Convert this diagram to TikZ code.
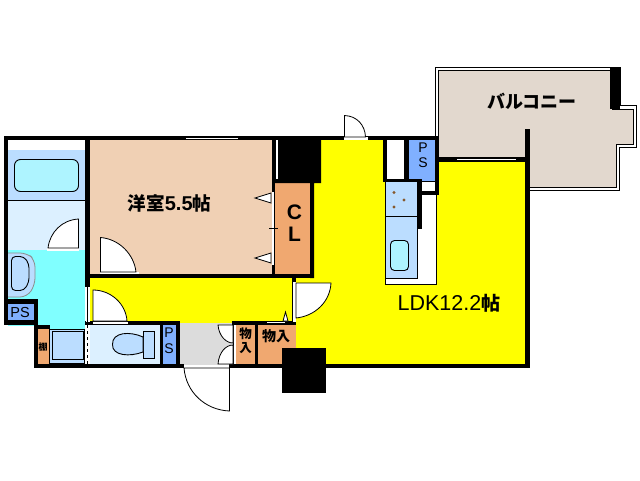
\documentclass[tikz,border=0pt]{standalone}
\usepackage{fontspec}
\setmainfont{Liberation Sans}
\newfontfamily\cjk{Noto Sans CJK JP}
\definecolor{peach}{HTML}{F0D0B4}
\definecolor{yel}{HTML}{FFFF00}
\definecolor{aqua}{HTML}{80FFFF}
\definecolor{paleb}{HTML}{DCF0FF}
\definecolor{midb}{HTML}{BBDDFF}
\definecolor{tub}{HTML}{AEF4FF}
\definecolor{psb}{HTML}{80B0FF}
\definecolor{oran}{HTML}{F0A870}
\definecolor{grayf}{HTML}{DCDCDC}
\definecolor{beige}{HTML}{E2D8CE}
\tikzset{
 fillbox/.style={fill=#1,draw=none},
 wall/.style={fill=black,draw=none},
 thin line/.style={draw=black,line width=0.9pt},
 fixture/.style={fill=#1,draw=black,line width=0.9pt},
 doorleaf/.style={fill=white,draw=black,line width=0.8pt},
 lab/.style={inner sep=0pt,font=\cjk\bfseries},
 latinlab/.style={inner sep=0pt,text=black},
}
\begin{document}
\begin{tikzpicture}[x=1pt,y=-1pt]
\useasboundingbox[fill=white] (0,0) rectangle (640,480);
% balcony
\path[fixture=white] (435.5,67.5) -- (620,67.5) -- (620,105.5) -- (636,105.5) -- (636,147.5) -- (619,147.5) -- (619,190.5) -- (528,190.5) -- (528,160) -- (435.5,160) -- cycle;
\path[fixture=beige] (438.5,70.5) -- (612,70.5) -- (612,109.5) -- (633,109.5) -- (633,144.5) -- (616,144.5) -- (616,187.5) -- (528,187.5) -- (528,160) -- (438.5,160) -- cycle;
\path[wall] (610,68) rectangle (620,109);
% rooms
\path[fillbox=peach] (88,138) rectangle (273,276);
\path[fillbox=yel] (88,276) rectangle (296,323);
\path[fillbox=yel] (321,138) -- (385,138) -- (385,160) -- (527,160) -- (527,366) -- (294,366) -- (294,276) -- (312,276) -- (312,183) -- (321,183) -- cycle;
\path[fillbox=white] (8,140) rectangle (85,150);
\path[fillbox=midb] (8,150) rectangle (85,200);
\path[fillbox=paleb] (8,200) rectangle (85,250);
\path[fillbox=aqua] (8,250) rectangle (85,326);
\path[fillbox=aqua] (36,326) rectangle (85,365);
\path[fillbox=paleb] (88,323) rectangle (163,365);
\path[fillbox=psb] (163,323) rectangle (176,365);
\path[fillbox=grayf] (178,323) rectangle (234,365);
\path[fillbox=oran] (234,323) rectangle (296,365);
\path[fillbox=oran] (273,181) rectangle (312,276);
\path[fillbox=white] (385,138) rectangle (406,181);
\path[fillbox=psb] (406,138) rectangle (437,193);
\path[fillbox=oran] (36,328) rectangle (49,365);
\path[fillbox=psb] (6,302) rectangle (36,322);
% bathroom fixtures
\path[fixture=tub,rounded corners=6pt] (14.5,159.5) rectangle (78.5,191.5);
\draw[thin line] (8,200.5) -- (85,200.5);
% wash basin
\path[fill=midb,draw=black!45,line width=0.8pt,rounded corners=7pt] (8,253) -- (27,253) -- (35,260) -- (35,285) -- (27,297) -- (8,297);
\path[fixture=midb,rounded corners=4pt] (11.5,256.5) -- (24,256.5) -- (29,264) -- (29,282) -- (24,290.5) -- (11.5,290.5) -- cycle;
% unit bath
\path[fixture=midb,line width=0.6pt] (49.5,329) rectangle (84,363);
\path[fixture=midb] (52.5,331.5) rectangle (83,359.5);
% toilet
\path[fixture=midb] (143.5,331.5) rectangle (154.5,358.5);
\path[fixture=midb] (143,337) .. controls (130,331) and (112,332) .. (112.5,344.5) .. controls (112,356) and (130,357) .. (143,352) -- cycle;
% kitchen
\path[fixture=white] (385.5,181) rectangle (436.5,284.5);
\path[fixture=midb,line width=0.8pt] (385.5,181) rectangle (417.5,278.5);
\draw[thin line] (385.5,216.5) -- (417.5,216.5);
\path[fixture=tub,rounded corners=4pt] (390.5,240.5) rectangle (408.5,270.5);
\foreach \n/\a/\b in {ba/394/192.5,bb/404/200,bc/394/207}{\fill[fill=brown!70!black] (\a,\b) circle (1.7);}
% CL triangles
\path[doorleaf] (271,193) -- (255,198) -- (271,203) -- cycle;
\path[doorleaf] (271,253) -- (255,258) -- (271,263) -- cycle;
% walls
\path[wall] (4,136) rectangle (438,140);
\path[wall] (4,136) rectangle (8,304);
\path[wall] (85,136) rectangle (90,287);
\path[wall] (4,299) rectangle (38,304);
\path[wall] (4,299) rectangle (8,325);
\path[wall] (4,320) rectangle (38,325);
\path[wall] (34,299) rectangle (38,368);
\path[wall] (34,325) rectangle (50,329);
\path[wall] (34,364) rectangle (184,368);
\path[wall] (229,364) rectangle (529,368);
\path[wall] (90,274) rectangle (314,278);
\path[wall] (85,321) rectangle (180,325);
\path[wall] (232,321) rectangle (296,325);
\path[wall] (160,321) rectangle (163,368);
\path[wall] (176,321) rectangle (180,368);
\path[wall] (233,321) rectangle (236,368);
\path[wall] (255,321) rectangle (258,368);
\path[wall] (272,140) rectangle (275,278);
\path[wall] (275,140) -- (321,140) -- (321,183) -- (314,183) -- (314,278) -- (310,278) -- (310,183) -- (275,183) -- cycle;
\path[wall] (282,348) rectangle (326,393);
\path[wall] (292,278) rectangle (296,325);
\path[wall] (383,140) rectangle (387,182);
\path[wall] (404,140) rectangle (409,182);
\path[wall] (383,179) rectangle (422,182);
\path[wall] (417.5,179) rectangle (422,229);
\path[wall] (417.5,191) rectangle (439,195);
\path[wall] (435,136) rectangle (439,195);
\path[wall] (435,157) rectangle (529,162);
\path[wall] (525,129) rectangle (530,368);
% wall openings
\path[fillbox=white] (275.5,140) rectangle (278,179);
\path[fillbox=white] (271.5,192) rectangle (274,265);
\draw[line width=0.6pt] (269,228.5) -- (278,228.5);
\path[fillbox=white] (457,158.5) rectangle (516,160);
\path[fillbox=white] (186,137.5) rectangle (238,138.5);
\path[fillbox=white] (47,248) rectangle (79,250.5);
\path[fillbox=white] (100,272) rectangle (139,274);
\path[fillbox=white] (85.5,287) rectangle (89.5,322);
\draw[thin line,line width=0.6pt] (87.5,287) -- (87.5,322);
\path[fillbox=white] (85.5,325) rectangle (89.5,364);
\draw[thin line,line width=0.8pt,dashed] (87.5,325) -- (87.5,364);
\path[fillbox=white] (93,321.5) rectangle (128,323.5);
\path[fillbox=white] (267,321.5) rectangle (285,323);
\path[fillbox=white] (292.5,282) rectangle (295.5,322);
\path[fillbox=white] (344,137) rectangle (368,139.5);
\path[fillbox=white] (184,364.5) rectangle (229,367.5);
\path[fillbox=white] (233.5,325) rectangle (236,364);
% doors
\path[doorleaf] (78.5,248) -- (78.5,219) .. controls (62,220) and (50,232) .. (48,248) -- cycle;
\path[doorleaf] (100.5,272) -- (100.5,237.5) .. controls (119,239) and (134,254) .. (136,272) -- cycle;
\path[doorleaf] (93,321) -- (93,290) .. controls (111,290) and (126,304) .. (127,321) -- cycle;
\path[doorleaf] (296,283) -- (331,283) .. controls (330,302) and (315,316) .. (296,318) -- cycle;
\path[doorleaf] (344.5,137) -- (344.5,115.5) .. controls (357,116) and (365,125) .. (365.5,137) -- cycle;
\path[doorleaf] (229.5,368) -- (229.5,411) .. controls (205,410) and (186,392) .. (184,368) -- cycle;
\path[doorleaf] (233,325) -- (233,343) .. controls (226,343) and (219,336) .. (218,325) -- cycle;
\path[doorleaf] (233,364) -- (233,345) .. controls (226,345) and (219,352) .. (218,364) -- cycle;
\path[doorleaf] (285,321) -- (288,321) -- (285.5,312) -- (283,321) -- cycle;
% labels
\node[lab,font=\cjk\bfseries\fontsize{18.5}{18.5}\selectfont] (yoshitsu) at (169.5,203.5) {洋室{\fontspec{Liberation Sans}\fontsize{20}{20}\selectfont 5.5}帖};
\node[lab,font=\cjk\bfseries\fontsize{18}{18}\selectfont] (balc) at (532,101) {バルコニー};
\node[lab,font=\cjk\bfseries\fontsize{19}{19}\selectfont] (ldk) at (449,303.5) {{\fontspec{Liberation Sans}\mdseries\fontsize{21.5}{21.5}\selectfont LDK12.2}帖};
\node[latinlab,font=\bfseries\fontsize{21}{21}\selectfont] (cl1) at (294.5,212) {C};
\node[latinlab,font=\bfseries\fontsize{21}{21}\selectfont] (cl2) at (294.5,234) {L};
\node[latinlab,font=\fontsize{14.5}{14.5}\selectfont] (ps1) at (20,313) {PS};
\node[latinlab,font=\fontsize{14}{14}\selectfont] (ps2a) at (169,333) {P};
\node[latinlab,font=\fontsize{14}{14}\selectfont] (ps2b) at (169,349) {S};
\node[latinlab,font=\fontsize{14}{14}\selectfont] (ps3a) at (423,148) {P};
\node[latinlab,font=\fontsize{14}{14}\selectfont] (ps3b) at (423,163) {S};
\node[lab,font=\cjk\bfseries\fontsize{12.5}{12.5}\selectfont] (mono1a) at (245.5,333.5) {物};
\node[lab,font=\cjk\bfseries\fontsize{12.5}{12.5}\selectfont] (mono1b) at (245.5,348) {入};
\node[lab,font=\cjk\bfseries\fontsize{14}{14}\selectfont] (mono2) at (276,336) {物入};
\node[lab,font=\cjk\bfseries\fontsize{9}{9}\selectfont] (tana) at (43,347) {棚};
\end{tikzpicture}
\end{document}
